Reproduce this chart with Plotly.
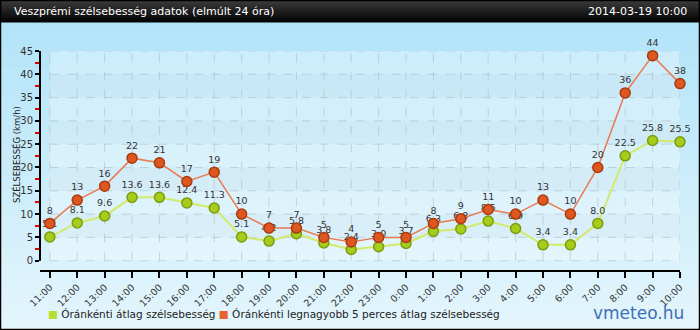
import plotly.graph_objects as go

hours = ["11:00", "12:00", "13:00", "14:00", "15:00", "16:00", "17:00", "18:00",
         "19:00", "20:00", "21:00", "22:00", "23:00", "0:00", "1:00", "2:00",
         "3:00", "4:00", "5:00", "6:00", "7:00", "8:00", "9:00", "10:00"]
avg_speed = [5.1, 8.1, 9.6, 13.6, 13.6, 12.4, 11.3, 5.1, 4.2, 5.8, 3.8, 2.4,
             3.0, 3.7, 6.3, 6.8, 8.5, 6.9, 3.4, 3.4, 8.0, 22.5, 25.8, 25.5]
max_speed = [8, 13, 16, 22, 21, 17, 19, 10, 7, 7, 5, 4,
             5, 5, 8, 9, 11, 10, 13, 10, 20, 36, 44, 38]
y_ticks = [0, 5, 10, 15, 20, 25, 30, 35, 40, 45]

title_text = "Veszprémi szélsebesség adatok (elmúlt 24 óra)"
date_text = "2014-03-19 10:00"
y_title = "SZÉLSEBESSÉG (km/h)"
leg_avg = "Óránkénti átlag szélsebesség"
leg_max = "Óránkénti legnagyobb 5 perces átlag szélsebesség"
brand = "vmeteo.hu"

W, H = 700, 330
ML, MR, MT, MB = 40, 20, 51, 60
PW, PH = W - ML - MR, H - MT - MB
FONT = "DejaVu Sans"


def px_x(px):
    return (px - ML) / PW


def px_y(py):
    return (H - MB - py) / PH


def mix(c1, c2, t):
    return "rgb(%d,%d,%d)" % tuple(round(a + (b - a) * t) for a, b in zip(c1, c2))


n = len(hours)
x_idx = list(range(n))
shapes = []

# page background gradient
top_c, bot_c = (178, 228, 249), (228, 245, 252)
steps = 40
for i in range(steps):
    y0 = 22 + (H - 22) * i / steps
    y1 = 22 + (H - 22) * (i + 1) / steps + 0.6
    shapes.append(dict(type="rect", xref="paper", yref="paper", layer="below",
                       x0=px_x(0), x1=px_x(W), y0=px_y(y1), y1=px_y(y0),
                       fillcolor=mix(top_c, bot_c, i / (steps - 1)), line_width=0))
# title bar gradient
tb_top, tb_bot = (58, 58, 58), (4, 4, 4)
for i in range(11):
    y0 = 22 * i / 11
    y1 = 22 * (i + 1) / 11 + 0.5
    shapes.append(dict(type="rect", xref="paper", yref="paper", layer="below",
                       x0=px_x(0), x1=px_x(W), y0=px_y(y1), y1=px_y(y0),
                       fillcolor=mix(tb_top, tb_bot, i / 10), line_width=0))

# plot area panel with bands
shapes.append(dict(type="rect", xref="x", yref="y", layer="below",
                   x0=0, x1=n - 1, y0=0, y1=max(y_ticks),
                   fillcolor="rgba(255,255,255,0.30)", line_width=0))
for k in range(len(y_ticks) - 1):
    if k % 2 == 1:
        shapes.append(dict(type="rect", xref="x", yref="y", layer="below",
                           x0=0, x1=n - 1, y0=y_ticks[k], y1=y_ticks[k + 1],
                           fillcolor="rgba(40,120,160,0.045)", line_width=0))
# dashed grid
grid_c = "rgba(170,185,195,0.55)"
for i in x_idx:
    shapes.append(dict(type="line", xref="x", yref="y", layer="below",
                       x0=i, x1=i, y0=0, y1=max(y_ticks),
                       line=dict(color=grid_c, width=1, dash="dash")))
for v in y_ticks:
    shapes.append(dict(type="line", xref="x", yref="y", layer="below",
                       x0=0, x1=n - 1, y0=v, y1=v,
                       line=dict(color=grid_c, width=1, dash="dash")))
# y axis line (ends at 0)
shapes.append(dict(type="line", xref="paper", yref="y", layer="above",
                   x0=0, x1=0, y0=0, y1=max(y_ticks),
                   line=dict(color="black", width=2)))
# outer frame
shapes.append(dict(type="rect", xref="paper", yref="paper", layer="above",
                   x0=px_x(0.5), x1=px_x(W - 0.5), y0=px_y(H - 0.5), y1=px_y(0.5),
                   line=dict(color="black", width=1.5), fillcolor="rgba(0,0,0,0)"))

fig = go.Figure()
fig.add_trace(go.Scatter(
    x=x_idx, y=avg_speed, mode="lines+markers+text", name=leg_avg,
    line=dict(color="#d2ea6c", width=2),
    marker=dict(size=10, color="#a6cc1c", line=dict(color="#7d9c10", width=1.5)),
    text=["%.1f" % v for v in avg_speed], textposition="top center",
    textfont=dict(family=FONT, size=9.5, color="#333333"),
    cliponaxis=False, showlegend=False))
fig.add_trace(go.Scatter(
    x=x_idx, y=max_speed, mode="lines+markers+text", name=leg_max,
    line=dict(color="#e87a50", width=1.5),
    marker=dict(size=10, color="#de5620", line=dict(color="#a83c10", width=1.5)),
    text=[str(v) for v in max_speed], textposition="top center",
    textfont=dict(family=FONT, size=9.5, color="#333333"),
    cliponaxis=False, showlegend=False))

annotations = [
    dict(text=title_text, xref="paper", yref="paper", x=px_x(12), y=px_y(11),
         xanchor="left", yanchor="middle", showarrow=False,
         font=dict(family=FONT, size=11, color="white")),
    dict(text=date_text, xref="paper", yref="paper", x=px_x(689), y=px_y(11),
         xanchor="right", yanchor="middle", showarrow=False,
         font=dict(family=FONT, size=11, color="white")),
    dict(text=y_title, xref="paper", yref="paper", x=px_x(16), y=px_y(155),
         xanchor="center", yanchor="middle", showarrow=False, textangle=-90,
         font=dict(family=FONT, size=8.5, color="#222222")),
    dict(text="<span style='color:#b8e030'>■</span> " + leg_avg +
              " <span style='color:#e8642c'>■</span> " + leg_max,
         xref="paper", yref="paper", x=px_x(46), y=px_y(314),
         xanchor="left", yanchor="middle", showarrow=False,
         font=dict(family=FONT, size=10.5, color="#222222")),
    dict(text=brand, xref="paper", yref="paper", x=px_x(686), y=px_y(313),
         xanchor="right", yanchor="middle", showarrow=False,
         font=dict(family=FONT, size=17, color="#3d6fb8")),
]

fig.update_layout(
    width=W, height=H, margin=dict(l=ML, r=MR, t=MT, b=MB, pad=0),
    paper_bgcolor="rgba(0,0,0,0)", plot_bgcolor="rgba(0,0,0,0)",
    shapes=shapes, annotations=annotations, showlegend=False,
    font=dict(family=FONT, color="#333333"),
    xaxis=dict(range=[-10 / (PW / (n - 1)), n - 1], tickmode="array",
               tickvals=x_idx, ticktext=hours, tickangle=-45,
               ticks="outside", ticklen=6, tickwidth=2, tickcolor="black",
               showline=True, linecolor="black", linewidth=2,
               showgrid=False, zeroline=False,
               tickfont=dict(family=FONT, size=9.5, color="#333333")),
    yaxis=dict(range=[-2.0, max(y_ticks)], tickmode="array", tickvals=y_ticks,
               ticks="outside", ticklen=4, tickwidth=1.5, tickcolor="black",
               minor=dict(dtick=2.5, tick0=0, ticks="outside", ticklen=4,
                          tickcolor="#e00000", tickwidth=1.5, showgrid=False),
               showline=False, showgrid=False, zeroline=False,
               tickfont=dict(family=FONT, size=10, color="#333333")),
)

fig.write_html("out.html")
